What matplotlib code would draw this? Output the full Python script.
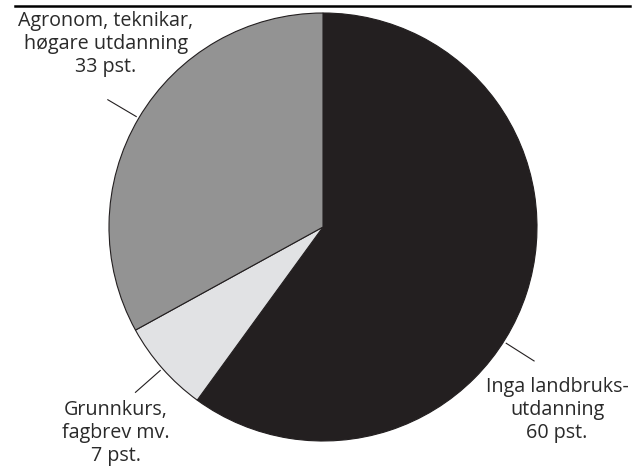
import numpy as np
import matplotlib.pyplot as plt
from matplotlib.lines import Line2D

# data
labels = ["Inga landbruks-\nutdanning\n60 pst.",
          "Grunnkurs,\nfagbrev mv.\n7 pst.",
          "Agronom, teknikar,\nhøgare utdanning\n33 pst."]
shares = [60, 7, 33]
colors = ["#231f20", "#e1e2e4", "#939393"]

W, H = 639, 471
fig = plt.figure(figsize=(W / 100, H / 100), dpi=100)
ax = fig.add_axes([0, 0, 1, 1])

cx, cy, r = 323, H - 227, 214
wedges, _ = ax.pie(shares, colors=colors, startangle=90, counterclock=False,
                   center=(cx, cy), radius=r, frame=True,
                   wedgeprops=dict(edgecolor="#231f20", linewidth=0.8))
ax.set_xlim(0, W)
ax.set_ylim(0, H)
ax.set_aspect("equal")
ax.axis("off")

# leader lines (angle in degrees) and text anchors
leader_angles = [-32.4, None, None]
text_pos = [(557, H - 410), (116, H - 433), (106, H - 44)]
for w, ang, lab, (tx, ty) in zip(wedges, leader_angles, labels, text_pos):
    if ang is None:
        ang = (w.theta1 + w.theta2) / 2
    a = np.deg2rad(ang)
    x0, y0 = cx + 217 * np.cos(a), cy + 217 * np.sin(a)
    x1, y1 = cx + 250 * np.cos(a), cy + 250 * np.sin(a)
    ax.plot([x0, x1], [y0, y1], color="#231f20", lw=0.8)
    ax.text(tx, ty, lab, ha="center", va="center", fontsize=14.2,
            family="Open Sans", color="#2a2a2a", linespacing=1.17)

fig.add_artist(Line2D([15 / W, 630 / W], [1 - 6 / H, 1 - 6 / H],
                      color="black", lw=1.8, transform=fig.transFigure))

fig.savefig("out.png", dpi=100)
